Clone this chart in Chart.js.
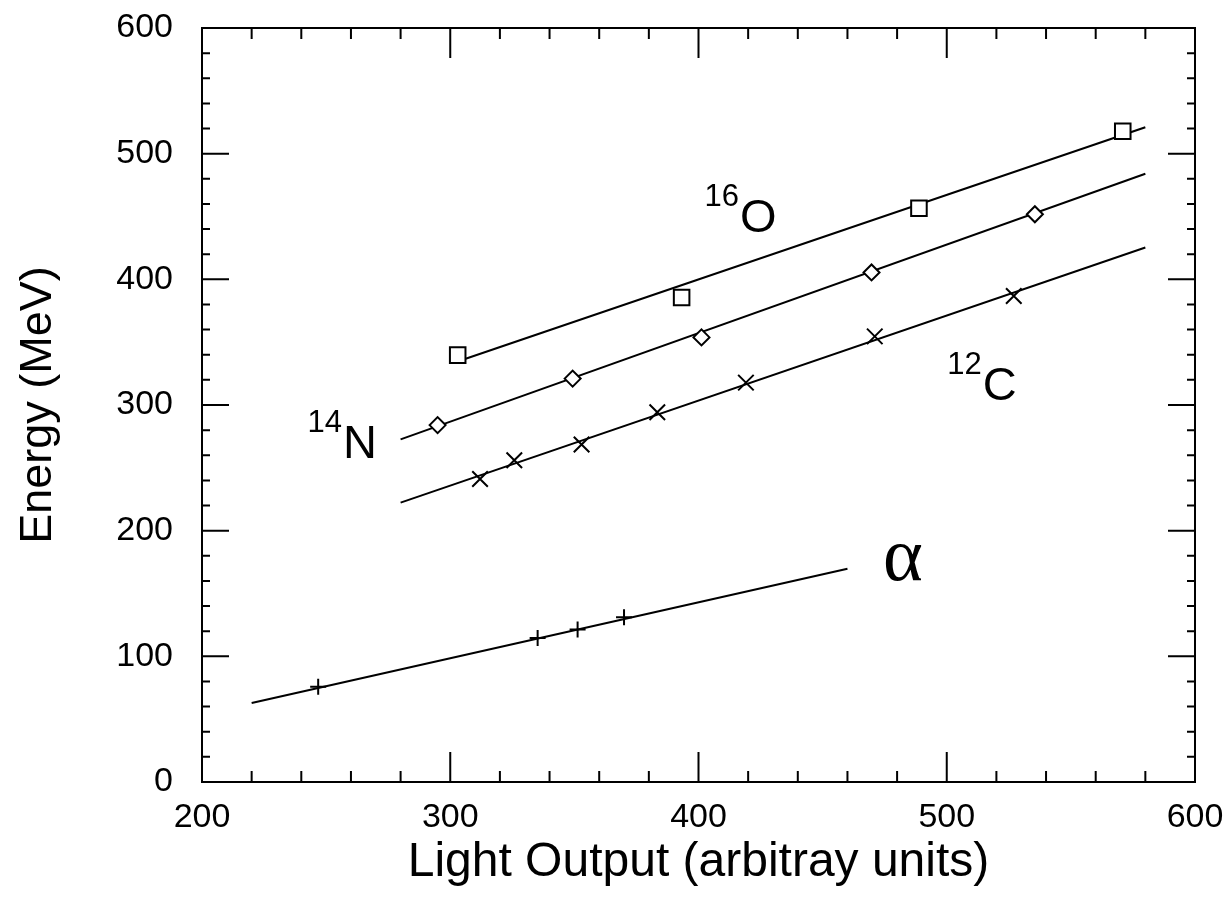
<!DOCTYPE html>
<html>
<head>
<meta charset="utf-8">
<script src="https://cdn.jsdelivr.net/npm/chart.js@4.4.1/dist/chart.umd.min.js"></script>
<style>
  html, body { margin: 0; padding: 0; background: #ffffff; }
  #wrap { width: 1225px; height: 914px; position: relative; }
</style>
</head>
<body>
<div id="wrap"><canvas id="c" width="1225" height="914"></canvas></div>
<script>
// ---- Data ----
const oX = [303.0, 393.2, 488.8, 570.9];
const oY = [339.7, 385.6, 456.6, 517.9];
const nX = [294.9, 349.3, 401.2, 469.7, 535.5];
const nY = [284.0, 321.0, 353.8, 405.5, 451.8];
const cX = [312.0, 325.8, 352.9, 383.4, 419.1, 471.0, 527.0];
const cY = [241.1, 256.0, 268.6, 294.2, 317.8, 354.6, 386.7];
const aX = [246.8, 335.2, 351.3, 370.0];
const aY = [75.8, 114.5, 121.4, 131.1];

// fitted lines (end points)
const oFitX = [305, 580];
const oFitY = [336.0, 521.0];
const nFitX = [280, 580];
const nFitY = [272.6, 484.0];
const cFitX = [280, 580];
const cFitY = [222.3, 425.3];
const aFitX = [220, 460];
const aFitY = [62.9, 169.7];

// axis ranges / ticks
const xMin = 200, xMax = 600, xMajor = 100, xMinor = 20;
const yMin = 0, yMax = 600, yMajor = 100, yMinor = 20;

// in-plot labels (main symbol, superscript, anchor = left/baseline in data units)
const labelMain = ['O', 'N', 'C', '\u03B1'];
const labelSup = ['16', '14', '12', ''];
const labelX = [416.7, 256.8, 514.5, 474.3];
const labelY = [437.9, 258.1, 303.7, 160.9];

const xTitle = 'Light Output (arbitray units)';
const yTitle = 'Energy (MeV)';

const zip = (xs, ys) => xs.map((v, i) => ({ x: v, y: ys[i] }));
const FONT = "'Liberation Sans', Arial, Helvetica, sans-serif";

const framePlugin = {
  id: 'frameTicks',
  afterDatasetsDraw(chart) {
    const { ctx, chartArea: a, scales: { x, y } } = chart;
    ctx.save();
    ctx.strokeStyle = '#000';
    ctx.lineWidth = 2;
    ctx.beginPath();
    ctx.rect(a.left, a.top, a.right - a.left, a.bottom - a.top);
    ctx.stroke();
    ctx.beginPath();
    for (let v = xMin + xMinor; v < xMax; v += xMinor) {
      const px = x.getPixelForValue(v);
      const len = (Math.round(v) % xMajor === 0) ? 30 : 11;
      ctx.moveTo(px, a.bottom); ctx.lineTo(px, a.bottom - len);
      ctx.moveTo(px, a.top); ctx.lineTo(px, a.top + len);
    }
    for (let v = yMin + yMinor; v < yMax; v += yMinor) {
      const py = y.getPixelForValue(v);
      const len = (Math.round(v) % yMajor === 0) ? 27 : 8;
      ctx.moveTo(a.left, py); ctx.lineTo(a.left + len, py);
      ctx.moveTo(a.right, py); ctx.lineTo(a.right - len, py);
    }
    ctx.stroke();

    // labels
    ctx.fillStyle = '#000';
    ctx.textBaseline = 'alphabetic';
    for (let i = 0; i < labelMain.length; i++) {
      const px = x.getPixelForValue(labelX[i]);
      const py = y.getPixelForValue(labelY[i]);
      if (labelSup[i] === '') {
        ctx.font = "76px 'Liberation Serif', 'Times New Roman', serif";
        ctx.textAlign = 'left';
        ctx.fillText(labelMain[i], px, py);
      } else {
        ctx.font = '47px ' + FONT;
        ctx.textAlign = 'left';
        ctx.fillText(labelMain[i], px, py);
        ctx.font = '31px ' + FONT;
        ctx.textAlign = 'right';
        ctx.fillText(labelSup[i], px - 1, py - 26);
      }
    }
    ctx.restore();
  }
};

const lineDs = (xs, ys) => ({
  data: zip(xs, ys), showLine: true, borderColor: '#000', borderWidth: 2,
  pointRadius: 0, fill: false, order: 2
});
const markDs = (xs, ys, style, r, bw) => ({
  data: zip(xs, ys), showLine: false, pointStyle: style, pointRadius: r,
  pointBorderColor: '#000', pointBackgroundColor: '#fff', pointBorderWidth: bw, order: 1
});

function zeroPad(s) { s.paddingTop = 0; s.paddingBottom = 0; s.paddingLeft = 0; s.paddingRight = 0; }

new Chart(document.getElementById('c'), {
  type: 'scatter',
  data: {
    datasets: [
      markDs(oX, oY, 'rect', 11, 2),
      markDs(nX, nY, 'rectRot', 8, 2),
      markDs(cX, cY, 'crossRot', 11, 2),
      markDs(aX, aY, 'cross', 8, 2)
    ].concat([
      lineDs(oFitX, oFitY),
      lineDs(nFitX, nFitY),
      lineDs(cFitX, cFitY),
      lineDs(aFitX, aFitY)
    ])
  },
  options: {
    responsive: false,
    animation: false,
    devicePixelRatio: 1,
    layout: { padding: { top: 28, right: 30, left: 0, bottom: 0 } },
    plugins: { legend: { display: false }, tooltip: { enabled: false } },
    scales: {
      x: {
        type: 'linear', min: xMin, max: xMax,
        grid: { display: false, drawTicks: false },
        border: { display: false },
        ticks: { stepSize: xMajor, color: '#000', font: { family: FONT, size: 34 }, padding: 15, maxRotation: 0 },
        title: { display: true, text: xTitle, color: '#000', font: { family: FONT, size: 48 }, padding: { top: 8, bottom: 22 } },
        afterFit(s) { s.height = 132; zeroPad(s); }
      },
      y: {
        type: 'linear', min: yMin, max: yMax,
        grid: { display: false, drawTicks: false },
        border: { display: false },
        ticks: { stepSize: yMajor, color: '#000', font: { family: FONT, size: 34 }, padding: 29 },
        title: { display: true, text: yTitle, color: '#000', font: { family: FONT, size: 45 }, padding: { top: 12, bottom: 0 } },
        afterFit(s) { s.width = 202; zeroPad(s); }
      }
    }
  },
  plugins: [framePlugin]
});
</script>
</body>
</html>
